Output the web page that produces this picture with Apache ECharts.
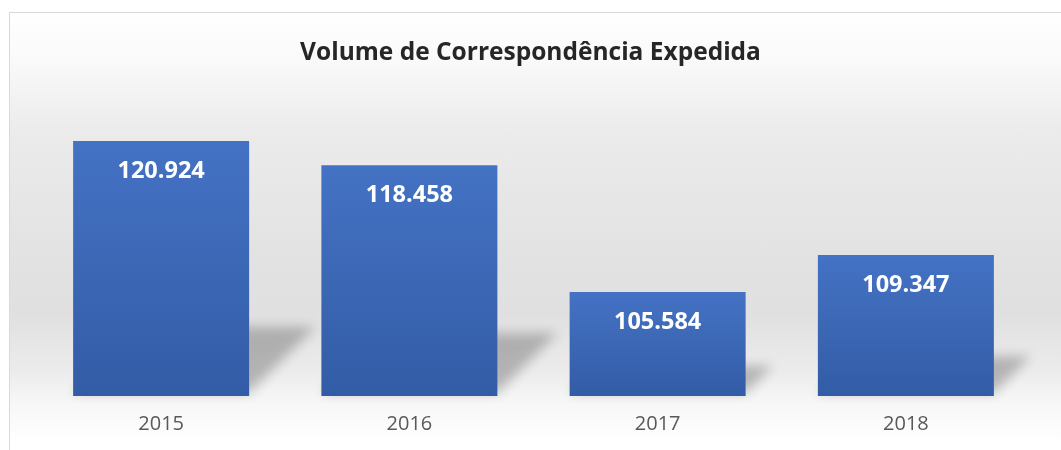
<!DOCTYPE html>
<html>
<head>
<meta charset="utf-8">
<script src="https://cdn.jsdelivr.net/npm/echarts@6/dist/echarts.min.js"></script>
<style>
  html, body { margin: 0; padding: 0; background: #fff; }
  .frame {
    position: absolute; left: 9px; top: 12px; width: 1100px; height: 460px;
    box-sizing: border-box; border: 1px solid #d9d9d9;
    background: linear-gradient(to bottom, #ffffff 0px, #f9f9f9 50px, #ebebeb 120px,
      #e2e2e2 250px, #e0e0e0 300px, #ececec 360px, #f7f7f7 390px, #ffffff 430px);
  }
  #chart { position: absolute; left: 0; top: 0; width: 1061px; height: 450px; }
</style>
</head>
<body>
<div class="frame"></div>
<div id="chart"></div>
<script>
const anos = ['2015', '2016', '2017', '2018'];
const volumes = [120924, 118458, 105584, 109347];
const eixoMin = 95000;
const eixoMax = 125000;

const myChart = echarts.init(document.getElementById('chart'));

// formato brasileiro: 120924 -> 120.924
function fmt(v) {
  return String(v).replace(/\B(?=(\d{3})+(?!\d))/g, '.');
}

const OFF = 3000; // desenha fora da tela e usa só a sombra (borrada)

const option = {
  backgroundColor: 'transparent',
  animation: false,
  title: {
    text: 'Volume de Correspondência Expedida',
    left: 'center',
    top: 36,
    textStyle: {
      fontFamily: 'Open Sans',
      fontWeight: 'bold',
      fontSize: 24.5,
      color: '#262626'
    }
  },
  grid: { left: 37, right: 31, top: 101, bottom: 54 },
  xAxis: {
    type: 'category',
    data: anos,
    axisLine: { show: false },
    axisTick: { show: false },
    axisLabel: {
      fontFamily: 'Open Sans',
      fontSize: 20,
      color: '#595959',
      margin: 18
    }
  },
  yAxis: {
    type: 'value',
    min: eixoMin,
    max: eixoMax,
    show: false,
    splitLine: { show: false }
  },
  series: [
    {
      // sombra projetada à direita de cada barra
      type: 'custom',
      z: 1,
      silent: true,
      data: volumes.map((v, i) => [i, v]),
      renderItem: function (params, api) {
        const top = api.coord([api.value(0), api.value(1)]);
        const base = api.coord([api.value(0), eixoMin]);
        const h = base[1] - top[1];
        const left = top[0] - 88, right = top[0] + 88;
        const d = h * 0.26;
        const b = base[1] - 3;
        return {
          type: 'polygon',
          shape: {
            points: [
              [left + d - OFF, b - d], [right + d - OFF, b - d],
              [right - OFF, b], [left - OFF, b]
            ]
          },
          style: {
            fill: '#000',
            shadowBlur: 12,
            shadowColor: 'rgba(0,0,0,0.24)',
            shadowOffsetX: OFF
          }
        };
      }
    },
    {
      type: 'bar',
      z: 2,
      data: volumes,
      barWidth: 176,
      itemStyle: {
        color: new echarts.graphic.LinearGradient(0, 0, 0, 1, [
          { offset: 0, color: '#4472c4' },
          { offset: 1, color: '#335ca6' }
        ])
      },
      label: {
        show: true,
        position: 'insideTop',
        distance: 18,
        formatter: p => fmt(p.value),
        fontFamily: 'Open Sans',
        fontWeight: 'bold',
        fontSize: 23.5,
        color: '#ffffff'
      }
    }
  ]
};
myChart.setOption(option);
</script>
</body>
</html>
